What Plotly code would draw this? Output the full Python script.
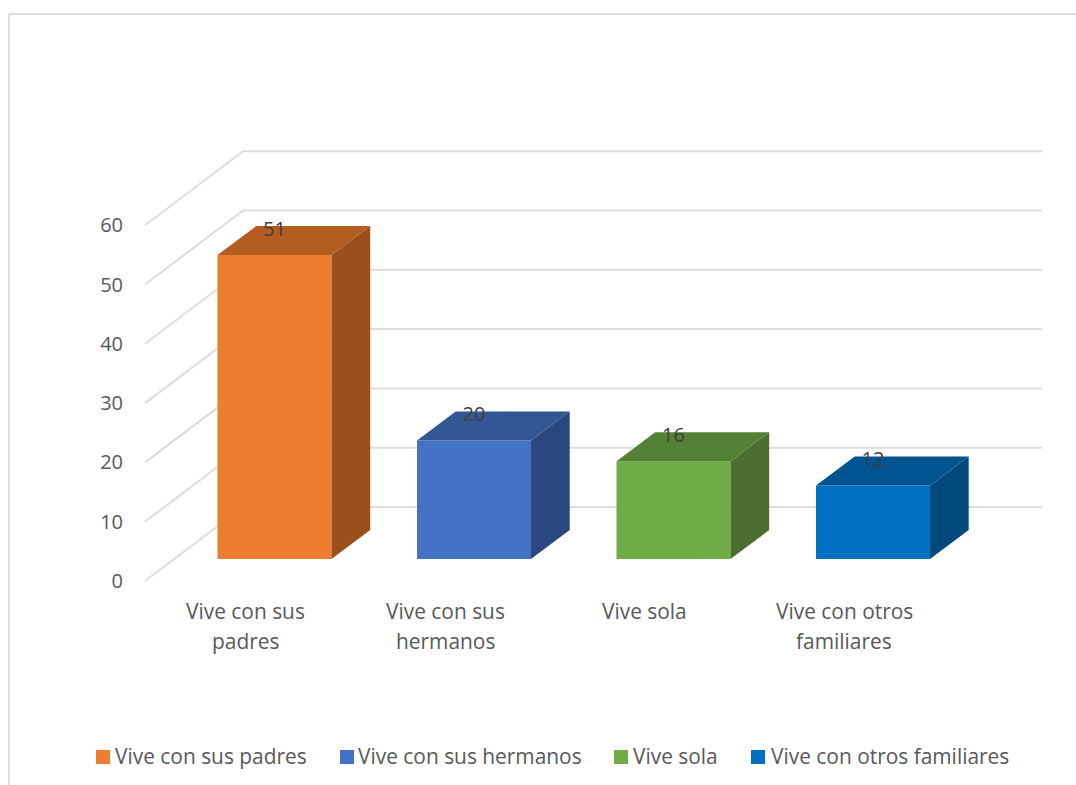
import plotly.graph_objects as go

# ---- data ----
categories = ["Vive con sus padres", "Vive con sus hermanos", "Vive sola", "Vive con otros familiares"]
category_lines = [["Vive con sus", "padres"], ["Vive con sus", "hermanos"], ["Vive sola"], ["Vive con otros", "familiares"]]
bar_heights = [51.25, 20, 16.5, 12.4]
data_labels = ["51", "20", "16", "12"]
value_ticks = [0, 10, 20, 30, 40, 50, 60]
front_colors = ["#ED7D31", "#4472C4", "#70AD47", "#0070C0"]
side_colors = ["#9A4F1C", "#2A4780", "#4A6F2E", "#00497D"]
top_colors = ["#B35D21", "#335694", "#548235", "#00548F"]

# ---- geometry of the figure ----
W, H = 1076, 785
CAT_PX = 199.5          # pixels per category
VAL_PX = 5.93           # pixels per value unit
X0_PX, Y0_PX = 274.5, 559   # pixel of category 0 / value 0 (front of bars)
FONT = "Open Sans"
GREY = "#595959"
GRID = "#DDDDDD"
FS = 20.9
FS_NUM = 20

def xu(px):  # horizontal pixel to category units
    return (px - X0_PX) / CAT_PX

def yu(px):  # vertical pixel to value units
    return (Y0_PX - px) / VAL_PX

BAR_W = 114 / CAT_PX
DX, DY = 38.7 / CAT_PX, 29 / VAL_PX        # depth of the bars

fig = go.Figure()

# front faces
for i, (c, h, col) in enumerate(zip(categories, bar_heights, front_colors)):
    fig.add_trace(go.Bar(x=[i], y=[h], width=BAR_W, name=c, marker=dict(color=col, line_width=0),
                         showlegend=False))

# side and top faces
for i, h in enumerate(bar_heights):
    l, r = i - BAR_W / 2, i + BAR_W / 2
    fig.add_trace(go.Scatter(x=[r, r + DX, r + DX, r, r], y=[0, DY, h + DY, h, 0], mode="lines",
                             fill="toself", fillcolor=side_colors[i], line=dict(width=0),
                             showlegend=False, hoverinfo="skip"))
    fig.add_trace(go.Scatter(x=[l, l + DX, r + DX, r, l], y=[h, h + DY, h + DY, h, h], mode="lines",
                             fill="toself", fillcolor=top_colors[i], line=dict(width=0),
                             showlegend=False, hoverinfo="skip"))

# data labels on the top faces
fig.add_trace(go.Scatter(x=list(range(len(categories))), y=[h + DY - 4.5 / VAL_PX for h in bar_heights],
                         text=data_labels, mode="text", textposition="middle center",
                         textfont=dict(family=FONT, size=FS_NUM, color="#404040"), showlegend=False,
                         hoverinfo="skip"))

# value axis (sits on the front edge of the floor)
fig.add_trace(go.Scatter(x=[0] * len(value_ticks), y=value_ticks, yaxis="y2", mode="markers",
                         marker=dict(opacity=0), showlegend=False, hoverinfo="skip"))

shapes = []
# walls: gridlines
wall_front_x, wall_back_x, wall_right_x = xu(145), xu(243), xu(1042)
wall_front_y0, wall_back_y0 = yu(581), yu(507)
for v in value_ticks:
    yf, yb = wall_front_y0 + v, wall_back_y0 + v
    for (xa, ya, xb, yb2) in [(wall_front_x, yf, wall_back_x, yb), (wall_back_x, yb, wall_right_x, yb)]:
        shapes.append(dict(type="line", xref="x", yref="y", x0=xa, y0=ya, x1=xb, y1=yb2, layer="below",
                           line=dict(color=GRID, width=2)))

# chart frame
shapes.append(dict(type="line", xref="paper", yref="paper", x0=8.5 / W, x1=1, y0=1 - 14 / H, y1=1 - 14 / H,
                   layer="below", line=dict(color=GRID, width=2)))
shapes.append(dict(type="line", xref="paper", yref="paper", x0=9 / W, x1=9 / W, y0=0, y1=1 - 14 / H,
                   layer="below", line=dict(color=GRID, width=2)))

annotations = []
# category labels
for i, lines in enumerate(category_lines):
    for k, t in enumerate(lines):
        annotations.append(dict(x=i + xu(245.5), y=yu(611 + 29.5 * k), xref="x", yref="y", text=t, showarrow=False,
                                xanchor="center", yanchor="middle", font=dict(family=FONT, size=FS, color=GREY)))

# legend row
swatch_px = [96, 340, 614, 751]
text_px = [115, 358, 633, 771]
for c, col, sx, tx in zip(categories, front_colors, swatch_px, text_px):
    shapes.append(dict(type="rect", xref="paper", yref="paper", x0=sx / W, x1=(sx + 14) / W,
                       y0=1 - 764 / H, y1=1 - 750 / H, fillcolor=col, line_width=0, layer="above"))
    annotations.append(dict(x=tx / W, y=1 - 756 / H, xref="paper", yref="paper", text=c, showarrow=False,
                            xanchor="left", yanchor="middle", xshift=-2,
                            font=dict(family=FONT, size=FS, color=GREY)))

fig.update_layout(
    width=W, height=H, autosize=False,
    margin=dict(l=0, r=0, t=0, b=0),
    paper_bgcolor="white", plot_bgcolor="white",
    barmode="overlay", showlegend=False,
    xaxis=dict(range=[xu(0), xu(W)], visible=False, fixedrange=True),
    yaxis=dict(range=[yu(H), yu(0)], visible=False, fixedrange=True),
    yaxis2=dict(overlaying="y", anchor="free", position=123 / W, side="left",
                range=[(581 - H) / VAL_PX, 581 / VAL_PX], tickvals=value_ticks,
                showgrid=False, zeroline=False, showline=False, ticks="", fixedrange=True,
                tickfont=dict(family=FONT, size=FS_NUM, color=GREY)),
    shapes=shapes, annotations=annotations,
)

fig.write_html("out.html", config={"displayModeBar": False},
               post_script="document.body.style.margin='0';")
